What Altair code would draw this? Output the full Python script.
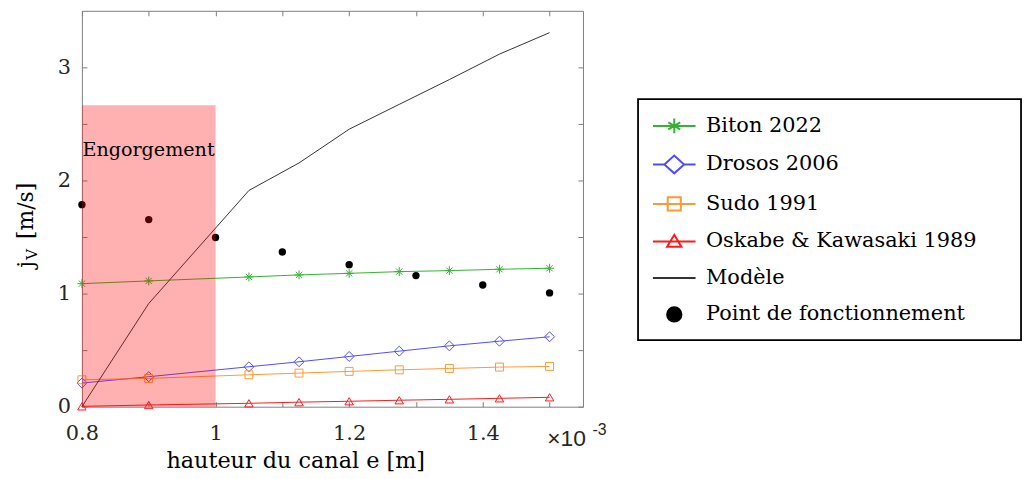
import altair as alt
import pandas as pd

# ---------------- data ----------------
x_vals = [0.8, 0.9, 1.05, 1.125, 1.2, 1.275, 1.35, 1.425, 1.5]          # ×10^-3 m
biton = [1.088, 1.112, 1.147, 1.165, 1.179, 1.194, 1.203, 1.215, 1.224]
drosos = [0.209, 0.265, 0.353, 0.397, 0.444, 0.491, 0.538, 0.579, 0.618]
sudo = [0.238, 0.250, 0.282, 0.297, 0.312, 0.326, 0.338, 0.350, 0.356]
oskabe = [0.003, 0.015, 0.030, 0.040, 0.048, 0.057, 0.065, 0.074, 0.083]
modele = [0.0, 0.912, 1.912, 2.155, 2.453, 2.673, 2.892, 3.117, 3.307]

op_x = [0.8, 0.9, 1.0, 1.1, 1.2, 1.3, 1.4, 1.5]
op_y = [1.786, 1.654, 1.496, 1.368, 1.256, 1.159, 1.076, 1.006]

zone_x = [0.8]
zone_x2 = [1.0]
zone_y = [0.0]
zone_y2 = [2.664]
zone_label = ["Engorgement"]
zone_label_y = [2.213]

series_names = ["Biton 2022", "Drosos 2006", "Sudo 1991",
                "Oskabe & Kawasaki 1989", "Modèle", "Point de fonctionnement"]
series_colors = ["#33b233", "#4d4dff", "#ff9933", "#ff1a1a", "#333333", "#000000"]

x_ticks = [0.8, 0.9, 1.0, 1.1, 1.2, 1.3, 1.4, 1.5]
y_ticks = [0.0, 0.5, 1.0, 1.5, 2.0, 2.5, 3.0]
x_domain = [0.8, 1.55]
y_domain = [0.0, 3.5]

x_title = "hauteur du canal e [m]"
y_title_parts = ["j", "V", "[m/s]"]
exp_parts = ["×10", "-3"]

# ---------------- tables ----------------
curves = {"Biton 2022": biton, "Drosos 2006": drosos, "Sudo 1991": sudo,
          "Oskabe & Kawasaki 1989": oskabe, "Modèle": modele}
rows = []
for name, vals in curves.items():
    for xv, yv in zip(x_vals, vals):
        rows.append({"x": xv, "y": yv, "series": name})
df = pd.DataFrame(rows)
df_op = pd.DataFrame({"x": op_x, "y": op_y})
df_zone = pd.DataFrame({"x": zone_x, "x2": zone_x2, "y": zone_y, "y2": zone_y2})
df_zlabel = pd.DataFrame({"x": zone_x, "y": zone_label_y, "t": zone_label})
df_leg = pd.DataFrame({"series": series_names})
one = pd.DataFrame({"a": [0]})

SERIF = "DejaVu Serif"
SANS = "Liberation Sans"
FRAME = "#7f7f7f"
LBL = "#262626"

xs = alt.Scale(domain=x_domain, nice=False, zero=False)
ys = alt.Scale(domain=y_domain, nice=False, zero=False)

x_bottom = alt.Axis(orient="bottom", values=x_ticks, offset=-5, tickSize=5, domain=False,
                    grid=False, tickColor=FRAME, labelFont=SERIF, labelFontSize=21,
                    labelColor=LBL, labelPadding=16, labelFlush=False, labelOverlap=False,
                    labelExpr="(round(datum.value*10) % 2 == 0) ? toString(round(datum.value*10)/10) : ''",
                    title=x_title, titleFont=SERIF, titleFontSize=22.5, titleFontWeight="normal",
                    titleColor="black", titleX=215, titleY=66, titleBaseline="alphabetic",
                    titleAlign="center", titleAnchor="start")
y_left = alt.Axis(orient="left", values=y_ticks, offset=-5, tickSize=5, domain=False, grid=False,
                  tickColor=FRAME, labelFont=SERIF, labelFontSize=21, labelColor=LBL,
                  labelPadding=11.5, labelFlush=False, labelOverlap=False,
                  labelExpr="(datum.value % 1 == 0) ? toString(datum.value) : ''", title=None)
x_top = alt.Axis(orient="top", values=x_ticks, offset=-5, tickSize=5, domain=False, grid=False,
                 tickColor=FRAME, labels=False, title=None)
y_right = alt.Axis(orient="right", values=y_ticks, offset=-5, tickSize=5, domain=False, grid=False,
                   tickColor=FRAME, labels=False, title=None)

# ---------------- layers ----------------
lines = alt.Chart(df).mark_line(strokeWidth=1).encode(
    x=alt.X("x:Q", scale=xs, axis=x_bottom),
    y=alt.Y("y:Q", scale=ys, axis=y_left),
    color=alt.Color("series:N", scale=alt.Scale(domain=series_names[:5], range=series_colors[:5]),
                    legend=None),
    order="x:Q",
)

asterisk = "M-1,0H1M0,-1V1M-0.7,-0.7L0.7,0.7M-0.7,0.7L0.7,-0.7"
marker_specs = [("Biton 2022", asterisk, 81, series_colors[0]),
                ("Drosos 2006", "diamond", 100, series_colors[1]),
                ("Sudo 1991", "square", 64, series_colors[2]),
                ("Oskabe & Kawasaki 1989", "triangle-up", 72, series_colors[3])]
marker_layers = []
for name, shp, sz, col in marker_specs:
    marker_layers.append(
        alt.Chart(df[df["series"] == name]).mark_point(
            shape=shp, size=sz, color=col, filled=False, strokeWidth=1, opacity=1
        ).encode(x=alt.X("x:Q", scale=xs, axis=None), y=alt.Y("y:Q", scale=ys, axis=None))
    )

dots = alt.Chart(df_op).mark_circle(size=55, color="black", opacity=1).encode(
    x=alt.X("x:Q", scale=xs, axis=x_top),
    y=alt.Y("y:Q", scale=ys, axis=y_right),
)

zone = alt.Chart(df_zone).mark_rect(color="#ff0000", opacity=0.31).encode(
    x=alt.X("x:Q", scale=xs, axis=None), x2="x2:Q",
    y=alt.Y("y:Q", scale=ys, axis=None), y2="y2:Q",
)
zone_text = alt.Chart(df_zlabel).mark_text(
    font=SERIF, fontSize=19.3, color="black", align="left", baseline="alphabetic", dx=0.5
).encode(x=alt.X("x:Q", scale=xs, axis=None), y=alt.Y("y:Q", scale=ys, axis=None), text="t:N")

# y axis title pieces (rotated), j with subscript V
yt_j = alt.Chart(one).mark_text(text=y_title_parts[0], font=SERIF, fontSize=22, angle=270,
                                align="left", baseline="alphabetic", color="black").encode(
    x=alt.value(-49), y=alt.value(259))
yt_v = alt.Chart(one).mark_text(text=y_title_parts[1], font=SERIF, fontSize=15, angle=270,
                                align="left", baseline="alphabetic", color="black").encode(
    x=alt.value(-45), y=alt.value(251))
yt_u = alt.Chart(one).mark_text(text=y_title_parts[2], font=SERIF, fontSize=22, angle=270,
                                align="left", baseline="alphabetic", color="black").encode(
    x=alt.value(-49), y=alt.value(230))

# axis exponent ×10^-3
ex_a = alt.Chart(one).mark_text(text=exp_parts[0], font=SANS, fontSize=23, align="left",
                                baseline="alphabetic", color=LBL).encode(
    x=alt.value(469), y=alt.value(439))
ex_b = alt.Chart(one).mark_text(text=exp_parts[1], font=SANS, fontSize=16, align="left",
                                baseline="alphabetic", color=LBL).encode(
    x=alt.value(514.5), y=alt.value(428))

# legend (native Vega legend with line+marker symbols)
L = 1.79
leg_shapes = [
    f"M-{L},0H{L}M0,-0.62V0.62M-0.5,-0.3L0.5,0.3M-0.5,0.3L0.5,-0.3",
    f"M-{L},0H-0.83M0.83,0H{L}M-0.83,0L0,-0.75L0.83,0L0,0.75Z",
    f"M-{L},0H{L}M-0.55,-0.55H0.55V0.55H-0.55Z",
    f"M-{L},0H{L}M0,-0.55L0.6,0.45L-0.6,0.45Z",
    f"M-{L},0H{L}",
    "M0.6,0A0.6,0.6 0 1,1 -0.6,0A0.6,0.6 0 1,1 0.6,0Z",
]
leg_fills = ["transparent"] * 5 + ["black"]
pad_chars = "\u2800" * 2   # blank (non-whitespace) padding so the frame reaches the right edge
legend = alt.Legend(title=None, orient="none", legendX=560.5, legendY=89, padding=14,
                    symbolSize=576, symbolStrokeWidth=2, symbolOffset=9.5, symbolOpacity=1,
                    labelOffset=19, labelFont=SERIF, labelFontSize=21, labelColor="black",
                    labelLimit=0, rowPadding=13.8, strokeColor="black",
                    labelExpr=f"datum.label + '{pad_chars}'")
legend_layer = alt.Chart(df_leg).mark_point(filled=True, opacity=0).encode(
    stroke=alt.Stroke("series:N", scale=alt.Scale(domain=series_names, range=series_colors),
                      legend=legend),
    fill=alt.Fill("series:N", scale=alt.Scale(domain=series_names, range=leg_fills),
                  legend=legend),
    shape=alt.Shape("series:N", scale=alt.Scale(domain=series_names, range=leg_shapes),
                    legend=legend),
)

chart = alt.layer(
    lines, *marker_layers, dots, zone, zone_text,
    yt_j, yt_v, yt_u, ex_a, ex_b, legend_layer
).resolve_axis(x="independent", y="independent").properties(
    width=505, height=399,
    autosize=alt.AutoSizeParams(type="none"),
    padding={"left": 74.5, "top": 1, "right": 445.5, "bottom": 65},
    background="white",
).configure_view(stroke=FRAME, strokeWidth=1).configure_legend(strokeWidth=1.8)

chart.save("out.html", embed_options={"renderer": "svg", "actions": False})
